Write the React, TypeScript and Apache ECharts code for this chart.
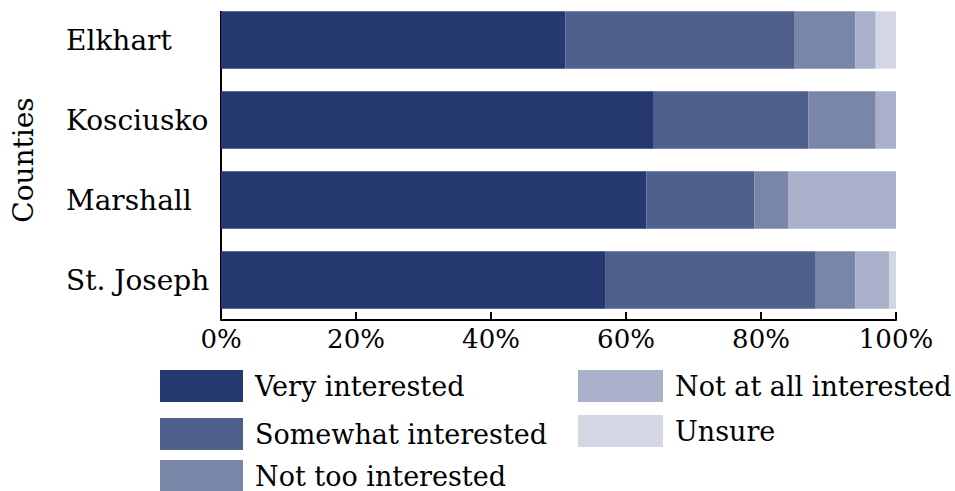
import React, { useEffect, useRef } from "react";
import * as echarts from "echarts";

const counties = ["Elkhart", "Kosciusko", "Marshall", "St. Joseph"];
const seriesNames = [
  "Very interested",
  "Somewhat interested",
  "Not too interested",
  "Not at all interested",
  "Unsure",
];
const veryInterested = [51, 64, 63, 57];
const somewhatInterested = [34, 23, 16, 31];
const notTooInterested = [9, 10, 5, 6];
const notAtAllInterested = [3, 3, 16, 5];
const unsure = [3, 0, 0, 1];
const xTicks = [0, 20, 40, 60, 80, 100];
const colors = ["#25386f", "#4f5f8d", "#7a86a8", "#aab0c9", "#d3d7e4"];

const FONT = "DejaVu Serif";

// legend item placement (left, top, swatch width)
const legendPlaces: [number, number, number][] = [
  [160, 370, 83],
  [160, 418, 83],
  [160, 460, 83],
  [578, 370, 85],
  [578, 415, 85],
];

export default function App() {
  const ref = useRef<HTMLDivElement>(null);
  useEffect(() => {
    if (!ref.current) return;
    const chart = echarts.init(ref.current, null, { renderer: "svg" });
    const values = [veryInterested, somewhatInterested, notTooInterested, notAtAllInterested, unsure];
    const legendText = { fontFamily: FONT, fontSize: 27, color: "#000", padding: [0, 0, 0, 7] };
    chart.setOption({
      animation: false,
      backgroundColor: "#fff",
      textStyle: { fontFamily: FONT },
      grid: { left: 221, right: 59, top: -1, height: 321, containLabel: false },
      legend: seriesNames.map((name, i) => ({
        data: [name],
        orient: "horizontal",
        left: legendPlaces[i][0],
        top: legendPlaces[i][1],
        itemWidth: legendPlaces[i][2],
        itemHeight: 32,
        icon: "rect",
        padding: 0,
        textStyle: legendText,
      })),
      xAxis: {
        type: "value",
        min: xTicks[0],
        max: xTicks[xTicks.length - 1],
        interval: 20,
        axisLine: { show: true, lineStyle: { color: "#000", width: 2 } },
        axisTick: { show: true, inside: true, length: 8, lineStyle: { color: "#000", width: 2 } },
        splitLine: { show: false },
        axisLabel: {
          formatter: "{value}%",
          fontFamily: FONT,
          fontSize: 26,
          color: "#000",
          margin: 6,
        },
      },
      yAxis: {
        type: "category",
        data: counties,
        inverse: true,
        axisLine: { show: false },
        axisTick: { show: false },
        axisLabel: {
          align: "left",
          margin: 155,
          fontFamily: FONT,
          fontSize: 28,
          color: "#000",
        },
        name: "Counties",
        nameLocation: "middle",
        nameRotate: 90,
        nameGap: 184,
        nameTextStyle: { fontFamily: FONT, fontSize: 28, color: "#000" },
      },
      graphic: [
        {
          type: "line",
          shape: { x1: 221, y1: 11, x2: 221, y2: 320 },
          style: { stroke: "#000", lineWidth: 2 },
        },
      ],
      series: seriesNames.map((name, i) => ({
        name,
        type: "bar",
        stack: "total",
        barWidth: 57.5,
        data: values[i],
        itemStyle: { color: colors[i] },
      })),
    });
    return () => chart.dispose();
  }, []);
  return (
    <div
      ref={ref}
      style={{ position: "fixed", left: 0, top: 0, width: 955, height: 491, overflow: "hidden" }}
    />
  );
}
